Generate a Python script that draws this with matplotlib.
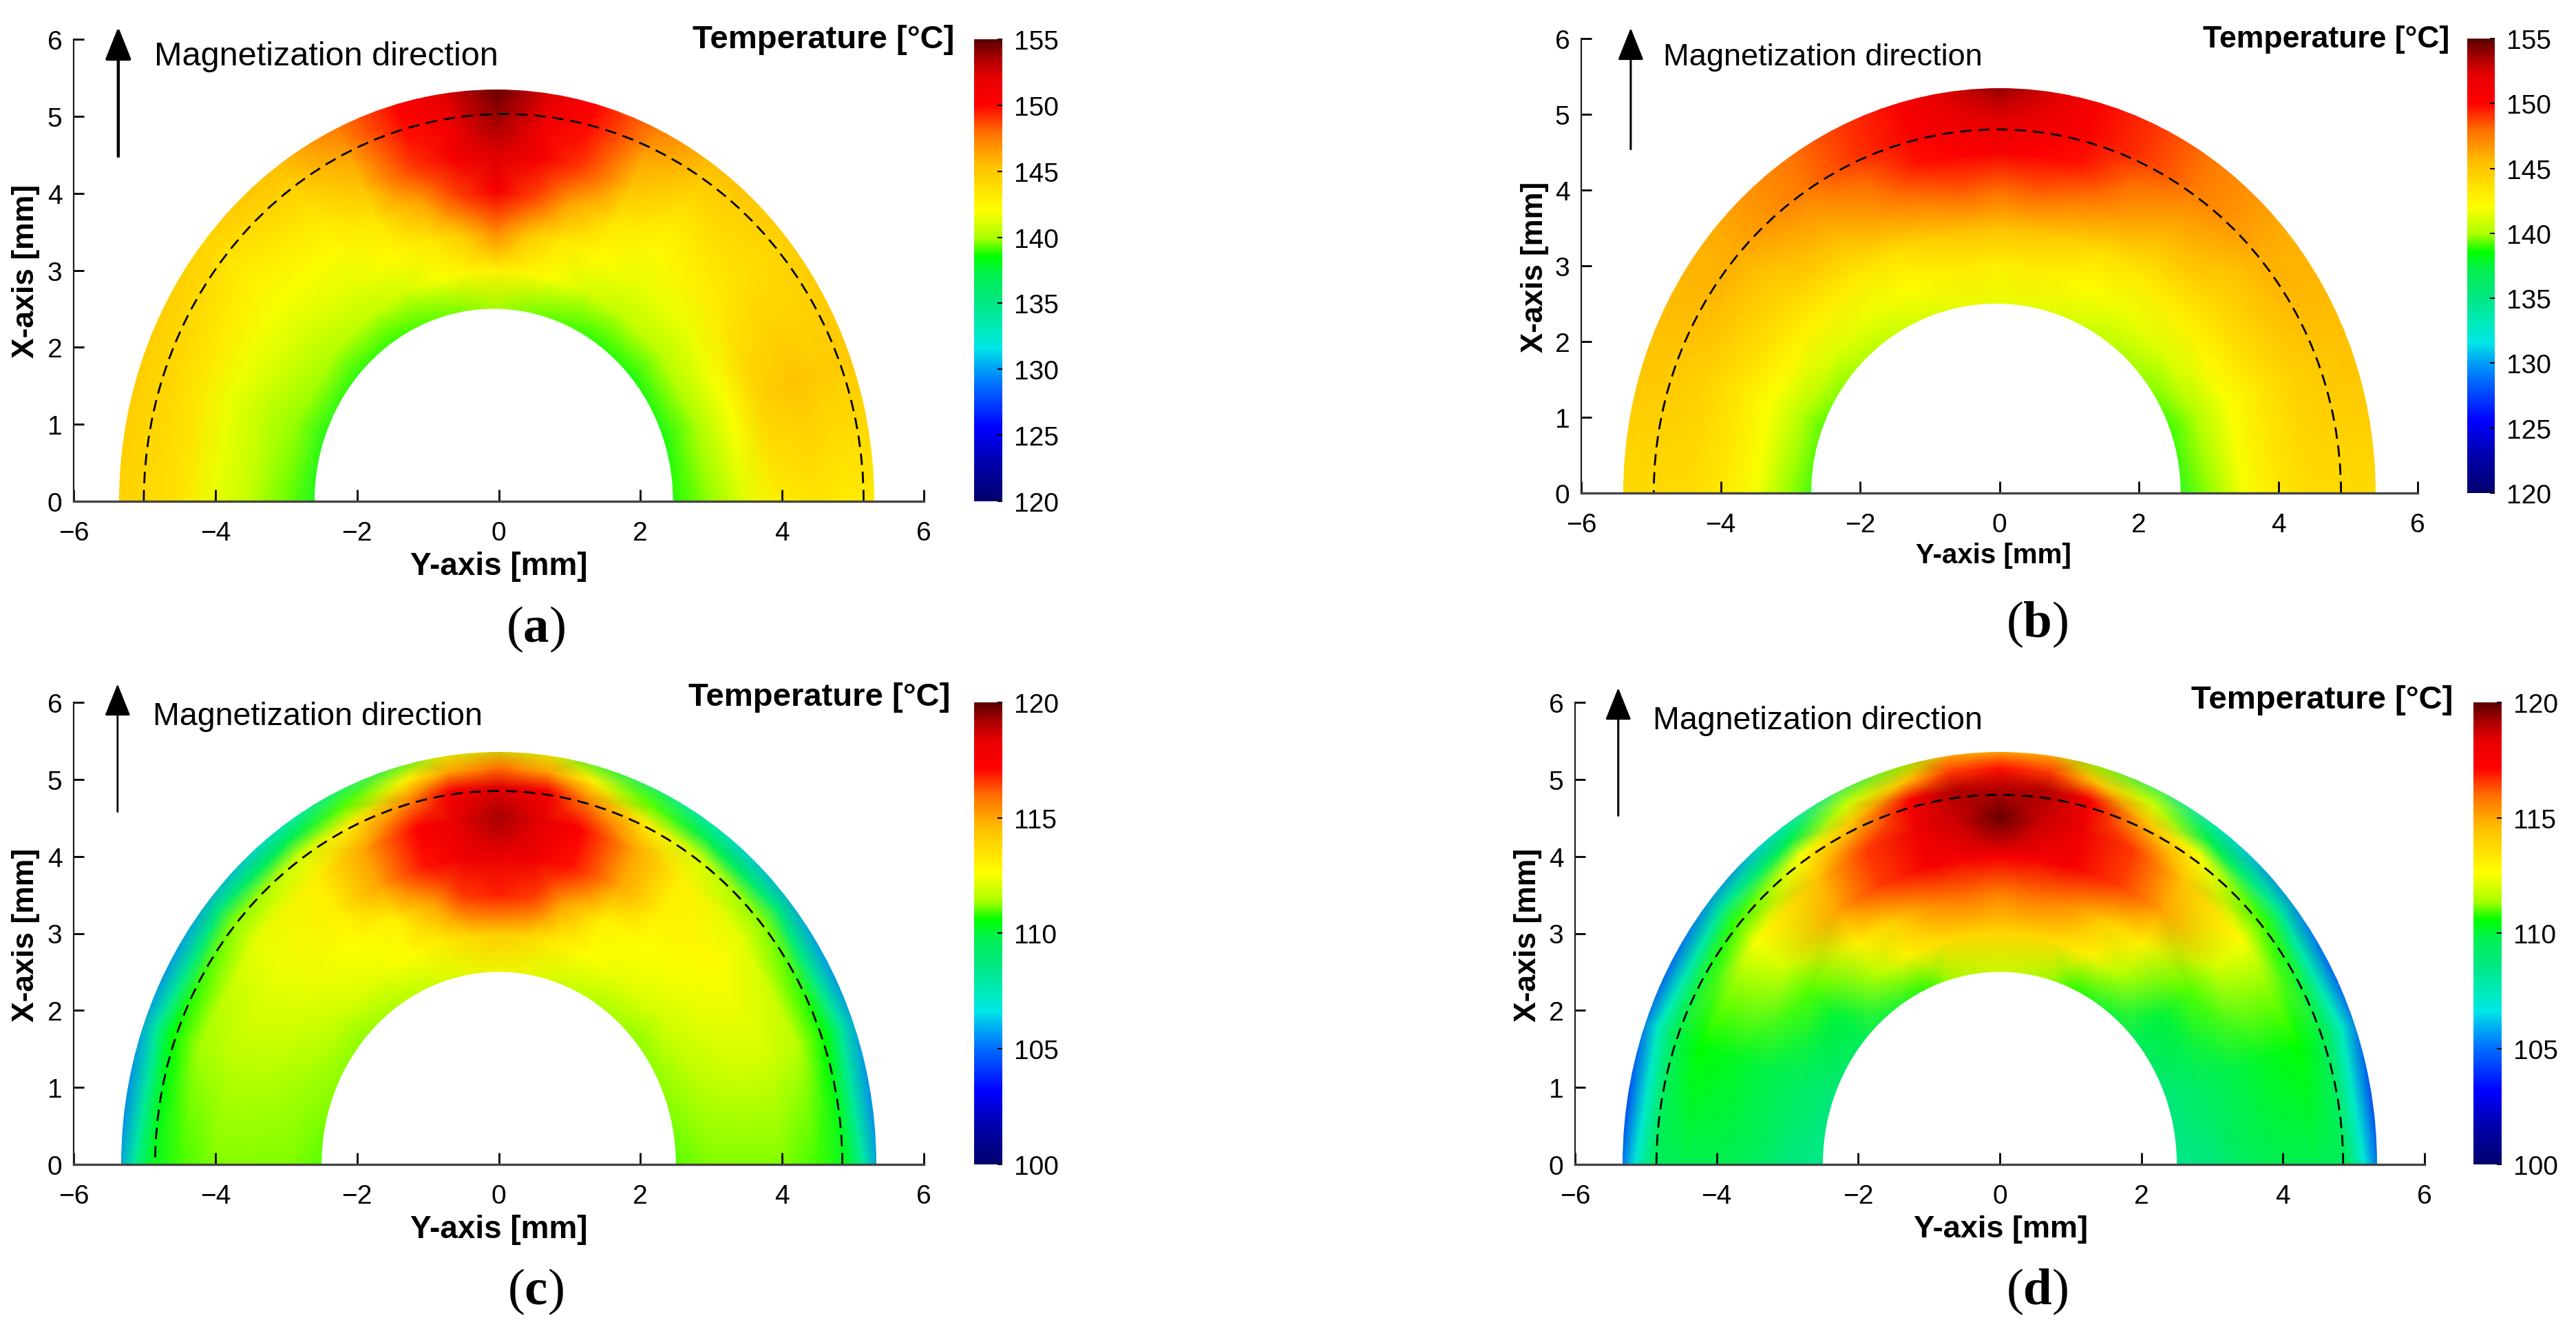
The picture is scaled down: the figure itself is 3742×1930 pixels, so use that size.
import numpy as np
import matplotlib
matplotlib.use("Agg")
import matplotlib.pyplot as plt
from matplotlib.colors import LinearSegmentedColormap
from matplotlib.patches import Arc, Ellipse

plt.rcParams['font.family'] = ['Liberation Sans', 'DejaVu Sans']
plt.rcParams['mathtext.fontset'] = 'custom'
plt.rcParams['mathtext.rm'] = 'Liberation Serif'
plt.rcParams['mathtext.bf'] = 'Liberation Serif:bold'

W, H = 3742, 1931

# temperature, on a polar grid
angles = [0, 20, 40, 55, 65, 75, 82, 90, 98, 105, 115, 125, 140, 160, 180]
radii = [2.4, 3.0, 3.5, 4.0, 4.5, 4.9, 5.15, 5.5]

temp_a = [
    [138.6, 138.2, 138.3, 138.6, 138.9, 139.2, 139.5, 139.8, 139.5, 139.2, 138.9, 138.6, 138.3, 138.0, 137.8],
    [139.8, 140.0, 140.3, 140.6, 141.0, 142.0, 142.5, 142.8, 142.5, 142.0, 141.0, 140.6, 140.2, 139.8, 139.5],
    [141.3, 142.0, 141.6, 141.6, 142.2, 143.3, 145.0, 147.2, 145.0, 143.3, 142.2, 141.6, 141.1, 140.6, 140.6],
    [143.0, 144.7, 143.0, 142.3, 143.3, 146.3, 148.8, 150.5, 148.8, 146.3, 143.3, 142.3, 141.8, 141.6, 141.6],
    [143.5, 145.2, 143.7, 143.3, 145.2, 149.0, 150.8, 152.3, 150.8, 149.0, 145.2, 143.3, 142.8, 143.5, 143.6],
    [143.0, 144.8, 144.0, 144.4, 146.2, 149.8, 151.0, 153.5, 151.0, 149.8, 146.2, 144.4, 143.5, 144.2, 144.0],
    [143.0, 144.8, 144.3, 145.0, 147.0, 150.0, 151.6, 154.3, 151.6, 150.0, 147.0, 145.0, 144.0, 144.4, 144.2],
    [143.2, 145.0, 144.8, 145.8, 147.8, 150.2, 152.6, 155.5, 152.6, 150.2, 147.8, 145.8, 144.5, 145.0, 144.6],
]
temp_b = [
    [137.8, 138.7, 139.8, 140.3, 140.8, 141.2, 141.4, 141.4, 141.4, 141.2, 140.8, 140.3, 139.8, 138.7, 137.8],
    [139.7, 140.2, 141.2, 141.7, 142.2, 142.8, 143.0, 142.8, 143.0, 142.8, 142.2, 141.7, 141.2, 140.2, 139.7],
    [141.8, 142.0, 142.7, 143.2, 143.7, 144.8, 145.3, 145.3, 145.3, 144.8, 143.7, 143.2, 142.7, 142.0, 141.8],
    [143.3, 143.5, 144.2, 145.2, 146.5, 147.5, 148.2, 148.0, 148.2, 147.5, 146.5, 145.2, 144.2, 143.5, 143.3],
    [144.0, 144.6, 145.2, 146.6, 148.0, 149.7, 150.2, 150.7, 150.2, 149.7, 148.0, 146.6, 145.2, 144.6, 144.0],
    [144.0, 145.0, 146.0, 147.5, 149.0, 150.5, 151.2, 152.0, 151.2, 150.5, 149.0, 147.5, 146.0, 145.0, 144.0],
    [144.0, 145.1, 146.0, 147.5, 149.0, 150.5, 152.0, 153.0, 152.0, 150.5, 149.0, 147.5, 146.0, 145.1, 144.0],
    [144.0, 145.2, 146.0, 147.5, 149.0, 150.5, 152.6, 154.5, 152.6, 150.5, 149.0, 147.5, 146.0, 145.2, 144.0],
]
temp_c = [
    [111.0, 111.2, 111.2, 111.4, 111.6, 112.0, 112.2, 112.3, 112.2, 112.0, 111.6, 111.4, 111.2, 111.2, 111.0],
    [111.2, 111.6, 112.0, 112.3, 112.6, 113.2, 113.8, 114.2, 113.8, 113.2, 112.6, 112.3, 111.9, 111.4, 111.2],
    [111.2, 111.9, 112.4, 112.6, 113.0, 115.0, 116.5, 116.8, 116.5, 115.0, 113.0, 112.6, 112.2, 111.6, 111.2],
    [111.2, 112.0, 112.7, 113.0, 115.0, 117.0, 117.8, 118.2, 117.8, 117.0, 115.0, 113.0, 112.4, 111.7, 111.2],
    [110.9, 111.6, 112.2, 113.0, 115.0, 117.3, 118.3, 119.2, 118.3, 117.3, 115.0, 113.0, 112.2, 111.4, 110.9],
    [110.3, 110.6, 111.2, 112.0, 113.2, 115.5, 117.5, 118.5, 117.5, 115.5, 113.2, 112.0, 111.2, 110.6, 110.3],
    [108.0, 108.1, 108.8, 109.8, 111.0, 113.0, 115.0, 116.0, 115.0, 113.0, 111.0, 109.8, 108.8, 108.1, 108.0],
    [105.0, 105.2, 105.6, 106.5, 108.0, 110.0, 112.0, 111.6, 112.0, 110.0, 108.0, 106.5, 105.6, 105.2, 105.0],
]
temp_d = [
    [108.3, 108.7, 109.5, 110.0, 110.6, 111.3, 111.5, 111.7, 111.5, 111.3, 110.6, 110.0, 109.5, 108.7, 108.3],
    [108.8, 109.4, 110.0, 111.5, 113.0, 113.6, 113.8, 113.8, 113.8, 113.6, 113.0, 111.5, 110.0, 109.4, 108.8],
    [109.6, 109.9, 111.0, 113.0, 114.2, 115.5, 115.8, 115.6, 115.8, 115.5, 114.2, 113.0, 111.0, 109.9, 109.6],
    [109.8, 110.3, 112.0, 115.0, 116.5, 117.5, 117.5, 117.5, 117.5, 117.5, 116.5, 115.0, 112.0, 110.3, 109.8],
    [109.8, 110.6, 112.5, 114.5, 116.5, 118.0, 118.7, 119.8, 118.7, 118.0, 116.5, 114.5, 112.5, 110.6, 109.8],
    [109.4, 109.7, 110.8, 112.5, 114.5, 117.5, 119.0, 119.0, 119.0, 117.5, 114.5, 112.5, 110.8, 109.7, 109.4],
    [107.0, 107.3, 108.2, 109.8, 111.8, 114.5, 116.5, 117.0, 116.5, 114.5, 111.8, 109.8, 108.2, 107.3, 107.0],
    [103.5, 104.0, 104.8, 106.5, 108.5, 111.0, 113.5, 112.6, 113.5, 111.0, 108.5, 106.5, 104.8, 104.0, 103.5],
]
fields = [temp_a, temp_b, temp_c, temp_d]

# colour bar
cmap_stops = [0, 0.08, 0.157, 0.25, 0.29, 0.33, 0.37, 0.43, 0.49, 0.53, 0.57, 0.63, 0.73, 0.80, 0.86, 0.92, 0.96, 1]
cmap_colors = ['#00006e', '#0000aa', '#0000ff', '#006eff', '#00a5f5', '#00e6e6', '#00ebbe', '#00e682',
               '#00f050', '#00ff00', '#aaff00', '#ffff00', '#ffbe00', '#ff6e00', '#ff0000', '#e60000',
               '#aa0000', '#5a0000']
ref_cmap = LinearSegmentedColormap.from_list('ref', list(zip(cmap_stops, cmap_colors)), N=256)

x_ticks = [-6, -4, -2, 0, 2, 4, 6]
y_ticks = [0, 1, 2, 3, 4, 5, 6]
cbar_ticks_hot = [120, 125, 130, 135, 140, 145, 150, 155]
cbar_ticks_cold = [100, 105, 110, 115, 120]
cbar_ticks = [cbar_ticks_hot, cbar_ticks_hot, cbar_ticks_cold, cbar_ticks_cold]
letters = ['a', 'b', 'c', 'd']

# geometry of each ring: centre, outer half width/height, inner half width
ring_cx = [-0.03, 0.0, 0.0, 0.0]
ring_w = [5.33, 5.4, 5.33, 5.33]
ring_h = [5.35, 5.35, 5.36, 5.36]
hole_cx = [-0.07, -0.05, 0.0, 0.0]
hole_w = [2.53, 2.65, 2.5, 2.5]
hole_h = [2.5, 2.5, 2.5, 2.5]
dash_cx = [0.07, -0.03, 0.0, 0.0]
dash_w = [5.08, 4.93, 4.85, 4.85]
dash_h = [5.03, 4.8, 4.85, 4.8]

# arrows (x, tail, tip), line width
arrow_x = [-5.37, -5.29, -5.38, -5.39]
arrow_tail = [4.48, 4.54, 4.58, 4.53]
arrow_tip = [6.16, 6.14, 6.24, 6.19]
arrow_lw = [3.2, 2.2, 2.0, 2.2]

# layout in pixels of the full picture
ax_box = [(107, 1342, 58, 729), (2297, 3512, 57, 717), (107, 1342, 1021, 1692), (2288, 3522, 1021, 1692)]
cb_box = [(1415, 1456, 58, 729), (3584, 3624, 57, 717), (1415, 1456, 1021, 1692), (3593, 3634, 1021, 1692)]
temp_pos = [(1386, 58), (3558, 57), (1380, 1013), (3563, 1017)]
mag_pos = [(224, 83), (2416, 84), (222, 1041), (2401, 1047)]
ylab_pos = [(38, 394), (2230, 388), (38, 1358), (2220, 1358)]
xlab_pos = [(725, 823), (2896, 807), (725, 1786), (2906, 1786)]
letter_pos = [(778, 914), (2959, 907), (778, 1876), (2959, 1876)]

temp_fs = [34, 32, 34, 34]
mag_fs = [35, 32.5, 33.5, 33.5]
ylab_fs = [32, 31.5, 32, 32]
xlab_fs = [33, 29, 33, 32.5]
TICK_FS = 28
fig = plt.figure(figsize=(W / 100, H / 100), dpi=100, facecolor='white')


def put(pos, s, **kw):
    fig.text(pos[0] / W, 1 - pos[1] / H, s, **kw)


th = np.radians(angles)
rr = np.array(radii)
xx = np.outer(rr, np.cos(th))
yy = np.outer(rr, np.sin(th))

for i in range(4):
    l, r, t, b = ax_box[i]
    ax = fig.add_axes([l / W, 1 - b / H, (r - l) / W, (b - t) / H])
    vmin, vmax = cbar_ticks[i][0], cbar_ticks[i][-1]
    mesh = ax.pcolormesh(xx + ring_cx[i], yy, np.array(fields[i]), shading='gouraud',
                         cmap=ref_cmap, vmin=vmin, vmax=vmax, zorder=1)
    outer = Ellipse((ring_cx[i], 0), 2 * ring_w[i], 2 * ring_h[i], transform=ax.transData)
    mesh.set_clip_path(outer)
    ax.add_patch(Ellipse((hole_cx[i], 0), 2 * hole_w[i], 2 * hole_h[i], fc='white', ec='none', zorder=1.2))
    ax.add_patch(Arc((dash_cx[i], 0), 2 * dash_w[i], 2 * dash_h[i], theta1=0, theta2=180,
                     ec='black', lw=2.0, ls=(0, (6, 3.5)), zorder=2))
    ax.set_xlim(-6, 6)
    ax.set_ylim(0, 6)
    ax.set_xticks(x_ticks)
    ax.set_yticks(y_ticks)
    ax.tick_params(direction='in', length=12, width=2, labelsize=TICK_FS, pad=20)
    ax.tick_params(axis='y', length=11, pad=12)
    ax.spines['top'].set_visible(False)
    ax.spines['right'].set_visible(False)
    ax.spines['left'].set_linewidth(1.6)
    ax.spines['left'].set_color('#222222')
    ax.spines['bottom'].set_linewidth(2.4)
    ax.spines['bottom'].set_color('#444444')

    ax.annotate('', xy=(arrow_x[i], arrow_tip[i]), xytext=(arrow_x[i], arrow_tail[i]),
                annotation_clip=False,
                arrowprops=dict(arrowstyle='-|>,head_length=1.05,head_width=0.42', color='black',
                                lw=arrow_lw[i], shrinkA=0, shrinkB=0, mutation_scale=28))

    l, r, t, b = cb_box[i]
    cax = fig.add_axes([l / W, 1 - b / H, (r - l) / W, (b - t) / H])
    cbar = fig.colorbar(mesh, cax=cax)
    cbar.set_ticks(cbar_ticks[i])
    cbar.outline.set_visible(False)
    cax.tick_params(direction='in', length=5, width=1.5, labelsize=TICK_FS, pad=12)

    put(temp_pos[i], 'Temperature [°C]', ha='right', va='center', fontsize=temp_fs[i], fontweight='bold')
    put(mag_pos[i], 'Magnetization direction', ha='left', va='center', fontsize=mag_fs[i])
    put(ylab_pos[i], 'X-axis [mm]', ha='center', va='center', rotation=90, fontsize=ylab_fs[i], fontweight='bold')
    put(xlab_pos[i], 'Y-axis [mm]', ha='center', va='center', fontsize=xlab_fs[i], fontweight='bold')
    put(letter_pos[i], '($\\mathbf{' + letters[i] + '}$)', ha='center', va='center', fontsize=54,
        family='Liberation Serif')

fig.savefig('out.png', dpi=100, facecolor='white')
